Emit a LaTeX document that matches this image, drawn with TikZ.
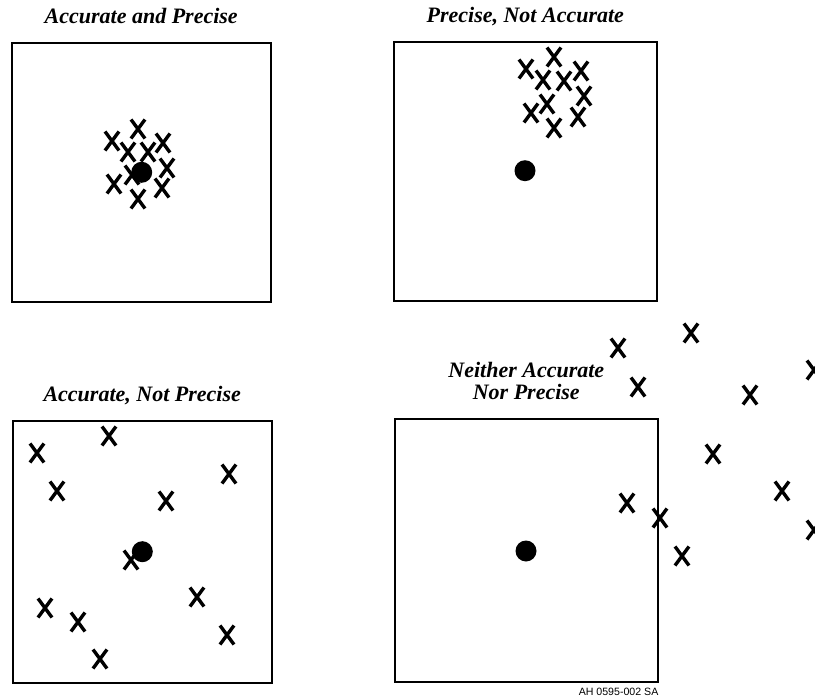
\documentclass[tikz,border=0pt]{standalone}
\usepackage{fontspec}
\setmainfont{Liberation Serif}
\newfontfamily\tagfont{Liberation Sans}
\usetikzlibrary{positioning}
\tikzset{
  panel/.style ={rectangle, draw=black, line width=1.8pt, inner sep=0pt},
  ptitle/.style={font=\fontsize{22}{22}\selectfont\bfseries\itshape, align=center,
                 inner sep=0pt, text depth=0pt},
  bull/.style  ={circle, fill=black, minimum size=21pt, inner sep=0pt},
  hitln/.style ={line width=3.4pt},
  hit/.pic     ={\draw[hitln] (-7,-9.5) -- (7,9.5) (-7,9.5) -- (7,-9.5);},
  figtag/.style={font=\tagfont\fontsize{10.6}{11}\selectfont, inner sep=0pt, anchor=base east},
}

\begin{document}
\begin{tikzpicture}[x=1pt, y=-1pt]
  \useasboundingbox (0,0) rectangle (815,696);
  \clip (0,0) rectangle (815,696);

  \node[panel, minimum width=259pt,   minimum height=258.7pt] (b1) at (141.2,172.3) {};
  \node[panel, minimum width=262.7pt, minimum height=258.7pt] (b2) at (525.3,171.3) {};
  \node[panel, minimum width=259pt,   minimum height=262pt]   (b3) at (142.2,551.7) {};
  \node[panel, minimum width=262.7pt, minimum height=262.4pt] (b4) at (526.3,550.5) {};

  \node[ptitle, above=18pt of b1]   (t1) {Accurate and Precise};
  \node[ptitle, above=18pt of b2]   (t2) {Precise, Not Accurate};
  \node[ptitle, above=17.7pt of b3] (t3) {Accurate, Not Precise};
  \node[ptitle, above=18.6pt of b4] (t4) {Neither Accurate\\Nor Precise};
  \node[figtag] (tag) at ([yshift=-12.4pt]b4.south east) {AH 0595-002 SA};

  \foreach \x/\y in {112/141, 138/129, 163/143, 128/152, 148/152, 167/168,
                     132/175, 114/184, 162/188, 138/199}
    \pic at (\x,\y) {hit};
  \foreach \x/\y in {526/69, 554/57, 543/80, 564/81, 581/71, 584/96,
                     547/104, 531/113, 578/117, 554/128}
    \pic at (\x,\y) {hit};
  \foreach \x/\y in {37/453, 109/436, 57/491, 166/501, 229/474, 131/560,
                     197/597, 45/608, 78/622, 227/635, 100/659}
    \pic at (\x,\y) {hit};
  \foreach \x/\y in {618/348, 691/333, 638/387, 750/395, 814/370, 713/454,
                     782/491, 814/530, 627/503, 660/518, 682/556}
    \pic at (\x,\y) {hit};

  \node[bull] (d1) at (141.7,172.3) {};
  \node[bull] (d2) at (525,170.7) {};
  \node[bull] (d3) at (142.3,551.7) {};
  \node[bull] (d4) at (526,551) {};
\end{tikzpicture}
\end{document}
